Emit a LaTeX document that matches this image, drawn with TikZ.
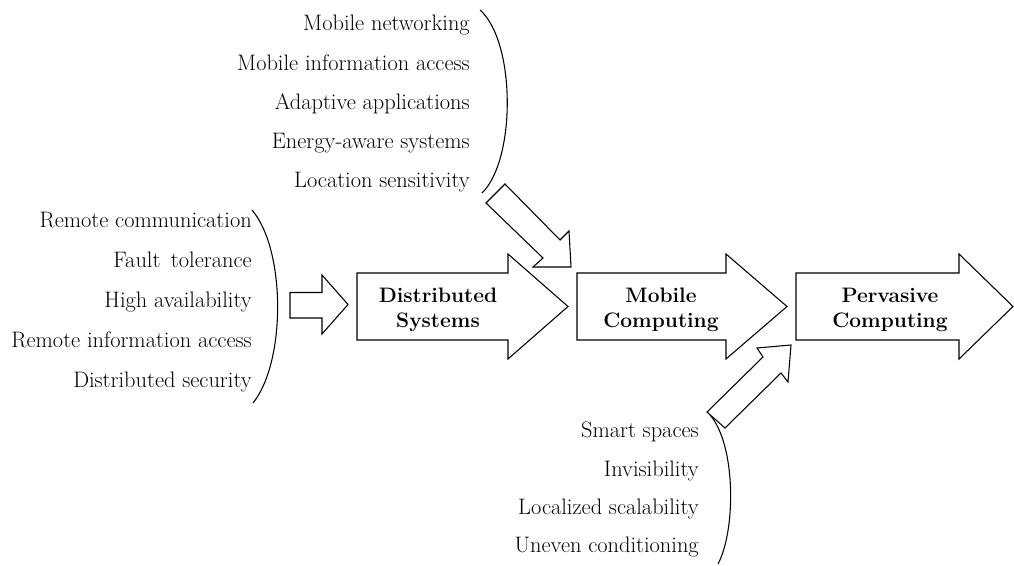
\documentclass[tikz,border=0pt]{standalone}
\usepackage{fontspec}
\begin{document}
\begin{tikzpicture}[x=0.75pt,y=-0.75pt,
  lbl/.style={anchor=base east,inner sep=0pt,font=\fontsize{16.8}{20}\selectfont},
  stage/.style={align=center,inner sep=0pt,font=\fontsize{15.7}{18.75}\selectfont\bfseries},
  blk/.style={draw=black,line width=0.8pt,line join=miter,fill=white},
  brk/.style={draw=black,line width=0.8pt}]
\useasboundingbox (0,0) rectangle (1014,566);

% ---- top group (mobile)
\node[lbl] (m1) at (470,31) {Mobile networking};
\node[lbl] (m2) at (470,70.2) {Mobile information access};
\node[lbl] (m3) at (470,109.4) {Adaptive applications};
\node[lbl] (m4) at (470,148.6) {Energy-aware systems};
\node[lbl] (m5) at (470,187.8) {Location sensitivity};
\draw[brk] (480,10) .. controls (516,42) and (516,160) .. (482,193);

% ---- left group (distributed)
\node[lbl] (d1) at (252,228) {Remote communication};
\node[lbl] (d2) at (252,268) {Fault\, tolerance};
\node[lbl] (d3) at (252,308) {High availability};
\node[lbl] (d4) at (252,348) {Remote information access};
\node[lbl] (d5) at (252,388) {Distributed security};
\draw[brk] (252,210) .. controls (286,250) and (286,362) .. (253,403);

% ---- bottom group (pervasive)
\node[lbl] (p1) at (699,438) {Smart spaces};
\node[lbl] (p2) at (699,476) {Invisibility};
\node[lbl] (p3) at (699,514) {Localized scalability};
\node[lbl] (p4) at (699,552) {Uneven conditioning};
\draw[brk] (710,415) .. controls (736,445) and (736,530) .. (718,564);

% ---- small arrow
\draw[blk] (290,292.5) -- (322,292.5) -- (322,275) -- (348,304.5) -- (322,334) -- (322,318) -- (290,318) -- cycle;

% ---- stage arrows
\draw[blk] (357,273) -- (508,273) -- (508,254) -- (568,306.5) -- (508,359) -- (508,340) -- (357,340) -- cycle;
\node[stage] (ds) at (438,309.5) {Distributed\\Systems};

\draw[blk] (577,273) -- (726,273) -- (726,254) -- (787,306.5) -- (726,359) -- (726,340) -- (577,340) -- cycle;
\node[stage] (mc) at (661,309.5) {Mobile\\Computing};

\draw[blk] (796,273) -- (959,273) -- (959,254) -- (1013,306.5) -- (959,359) -- (959,340) -- (796,340) -- cycle;
\node[stage] (pc) at (890,309.5) {Pervasive\\Computing};

% ---- diagonal arrows
\draw[blk] (486,203) -- (505,184) -- (560,240) -- (569,231) -- (571,267) -- (533,267) -- (543,258) -- cycle;
\draw[blk] (707,412) -- (763,357) -- (757,348) -- (791,345) -- (788,382) -- (781,373) -- (725,428) -- cycle;
\end{tikzpicture}
\end{document}
